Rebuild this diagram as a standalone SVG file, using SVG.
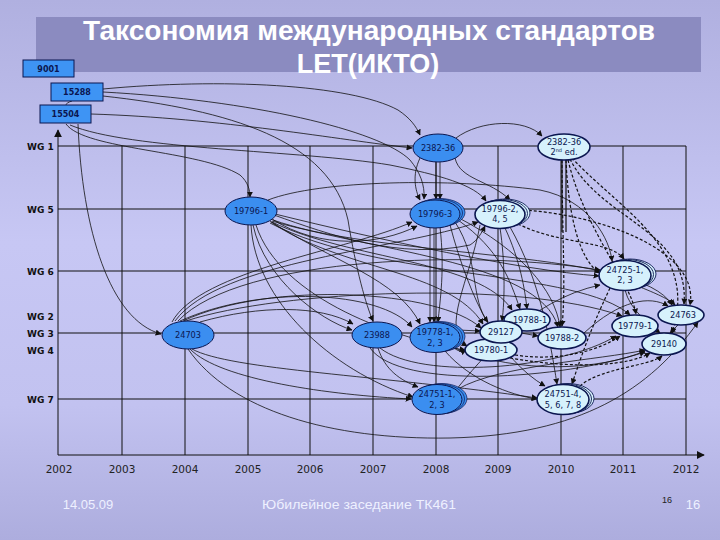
<svg xmlns="http://www.w3.org/2000/svg" width="720" height="540" viewBox="0 0 720 540">
<defs>
<linearGradient id="bg" x1="0" y1="0" x2="0" y2="1">
<stop offset="0" stop-color="#b0b0e0"/>
<stop offset="0.45" stop-color="#c7c7f4"/>
<stop offset="0.75" stop-color="#c2c2f0"/>
<stop offset="1" stop-color="#adadde"/>
</linearGradient>
<marker id="ar" viewBox="0 0 10 10" refX="9" refY="5" markerWidth="6" markerHeight="6" markerUnits="userSpaceOnUse" orient="auto">
<path d="M0,0 L10,5 L0,10 z" fill="#111"/>
</marker>
<marker id="ax" viewBox="0 0 10 10" refX="9" refY="5" markerWidth="8" markerHeight="8" markerUnits="userSpaceOnUse" orient="auto">
<path d="M0,0 L10,5 L0,10 z" fill="#111"/>
</marker>
</defs>
<style>
.grid{stroke:#111;stroke-width:1;fill:none}
.wg{font-family:"DejaVu Sans",sans-serif;font-weight:bold;font-size:9px;fill:#111}
.yr{font-family:"DejaVu Sans",sans-serif;font-size:10.5px;fill:#222;text-anchor:middle}
.ft{font-family:"Liberation Sans",Arial,sans-serif;fill:#eef0ff}
.box{fill:#3e94f4;stroke:#0b1650;stroke-width:1}
.bt{font-family:"DejaVu Sans",sans-serif;font-weight:bold;font-size:8px;fill:#0b1650;text-anchor:middle}
.dk{fill:#3b8ef0;stroke:#0b1650;stroke-width:1}
.lt{fill:#d6f1fc;stroke:#0b1650;stroke-width:1.6}
.dkb{fill:#3b8ef0;stroke:#0b1650;stroke-width:0.7}
.ltb{fill:#d6f1fc;stroke:#0b1650;stroke-width:0.9}
.nt{font-family:"DejaVu Sans",sans-serif;font-size:8.2px;fill:#0b1650;text-anchor:middle}
.c{fill:none;stroke:#111;stroke-width:0.8;marker-end:url(#ar)}
.d{fill:none;stroke:#111;stroke-width:1.2;stroke-dasharray:3 2;marker-end:url(#ar)}
</style>
<rect x="0" y="0" width="720" height="540" fill="url(#bg)"/>
<rect x="36" y="17" width="665" height="55" fill="#8b8bc0"/>
<text x="369" y="40" font-family="'Liberation Sans',Arial,sans-serif" font-weight="bold" font-size="27" fill="#ffffff" text-anchor="middle" textLength="572" lengthAdjust="spacingAndGlyphs">Таксономия международных стандартов</text>
<text x="368" y="73" font-family="'Liberation Sans',Arial,sans-serif" font-weight="bold" font-size="27" fill="#ffffff" text-anchor="middle">LET(ИКТО)</text>

<g id="grid">
<path class="grid" d="M58,146 H686 M58,209 H686 M58,271 H686 M58,333 H686 M58,399 H686"/>
<path class="grid" d="M122,146 V455 M185,146 V455 M248,146 V455 M310,146 V455 M373,146 V455 M436,146 V455 M498,146 V455 M561,146 V455 M623,146 V455 M686,146 V455"/>
<line x1="58" y1="455" x2="58" y2="130" stroke="#111" stroke-width="1" marker-end="url(#ax)"/>
<line x1="58" y1="455" x2="704" y2="455" stroke="#111" stroke-width="1" marker-end="url(#ax)"/>
<text class="wg" x="27" y="149.5">WG 1</text>
<text class="wg" x="27" y="212.5">WG 5</text>
<text class="wg" x="27" y="274.5">WG 6</text>
<text class="wg" x="27" y="319.5">WG 2</text>
<text class="wg" x="27" y="336.5">WG 3</text>
<text class="wg" x="27" y="354">WG 4</text>
<text class="wg" x="27" y="402.5">WG 7</text>
<text class="yr" x="59" y="473">2002</text>
<text class="yr" x="122" y="473">2003</text>
<text class="yr" x="185" y="473">2004</text>
<text class="yr" x="248" y="473">2005</text>
<text class="yr" x="310" y="473">2006</text>
<text class="yr" x="373" y="473">2007</text>
<text class="yr" x="436" y="473">2008</text>
<text class="yr" x="498" y="473">2009</text>
<text class="yr" x="561" y="473">2010</text>
<text class="yr" x="623" y="473">2011</text>
<text class="yr" x="686" y="473">2012</text>
</g>

<g id="connectors">
<path class="c" d="M103,89 C220,78 350,84 398,110 C410,118 416,126 420,135"/>
<path class="c" d="M91,114 C220,118 340,140 412,148"/>
<path class="c" d="M66,124 C85,150 200,150 240,175 C248,182 250,190 250,197"/>
<path class="c" d="M78,124 C82,230 110,320 161,334"/>
<path class="c" d="M103,96 C230,110 330,140 348,220 C356,270 366,305 373,321"/>
<path class="c" d="M70,125 C130,150 300,150 390,165 C440,175 475,185 486,201"/>
<path class="c" d="M103,92 C250,100 380,130 410,160 C420,172 425,185 424,199"/>
<path d="M72,101 C68,102 66,104 65,106" fill="none" stroke="#111" stroke-width="0.8"/>
<path class="c" d="M456,138 C480,120 525,118 542,136"/>
<path class="c" d="M436,162 L436,199"/>
<path class="c" d="M440,162 L440,199"/>
<path class="c" d="M420,158 C412,175 415,190 420,200"/>
<path class="c" d="M455,158 C460,180 490,180 510,200"/>
<path d="M562,160 V232 M566,160 V232" fill="none" stroke="#111" stroke-width="1.2"/>
<path class="d" d="M566,160 C568,210 578,260 600,273"/>
<path class="d" d="M562,160 C562,230 566,290 562,326"/>
<path class="d" d="M570,159 C600,220 690,230 684,304"/>
<path class="d" d="M568,160 C585,230 630,280 636,314"/>
<path class="d" d="M572,158 C620,210 700,250 672,333"/>
<path class="d" d="M518,224 C560,245 610,240 624,259"/>
<path class="d" d="M524,210 C600,215 700,250 690,305"/>
<path class="c" d="M272,219 C320,250 380,245 417,226"/>
<path class="c" d="M274,215 C330,235 400,260 470,245 C478,240 482,232 485,226"/>
<path class="c" d="M268,200 C320,180 450,178 540,190 C590,200 610,240 612,261"/>
<path class="c" d="M270,221 C330,260 400,280 420,324"/>
<path class="c" d="M271,222 C340,270 450,270 483,324"/>
<path class="c" d="M272,222 C350,260 480,260 512,310"/>
<path class="c" d="M273,220 C360,250 540,260 558,327"/>
<path class="c" d="M275,214 C380,240 520,270 599,276"/>
<path class="c" d="M270,223 C380,280 580,270 630,315"/>
<path class="c" d="M272,221 C400,260 640,250 672,305"/>
<path class="c" d="M253,225 C265,280 320,320 352,330"/>
<path class="c" d="M251,225 C255,300 330,370 413,397"/>
<path class="c" d="M256,225 C280,300 400,340 465,350"/>
<path class="c" d="M200,322 C260,305 320,305 353,324"/>
<path class="c" d="M172,322 C200,270 350,250 412,222"/>
<path class="c" d="M175,321 C220,260 400,250 478,222"/>
<path class="c" d="M178,321 C240,255 480,250 600,270"/>
<path class="c" d="M180,321 C260,285 380,290 412,327"/>
<path class="c" d="M183,321 C270,280 440,290 481,328"/>
<path class="c" d="M186,321 C280,290 520,280 622,316"/>
<path class="c" d="M190,349 C220,380 330,395 411,399"/>
<path class="c" d="M192,349 C230,370 380,375 537,398"/>
<path class="c" d="M188,349 C230,410 330,440 450,438 C580,435 650,390 698,322"/>
<path class="c" d="M378,348 C385,370 400,380 418,387"/>
<path class="c" d="M380,348 C420,380 560,370 616,336"/>
<path class="c" d="M370,348 C400,390 560,380 645,352"/>
<path class="c" d="M458,330 L480,331"/>
<path class="c" d="M452,346 C458,352 462,352 466,350"/>
<path class="c" d="M445,351 C470,380 510,395 537,399"/>
<path class="c" d="M455,348 C520,375 600,370 645,351"/>
<path class="c" d="M430,227 L430,322"/>
<path class="c" d="M434,228 L434,322"/>
<path class="c" d="M440,227 C445,270 440,300 438,322"/>
<path class="c" d="M455,222 C480,260 470,300 488,322"/>
<path class="c" d="M458,220 C500,250 510,280 520,309"/>
<path class="c" d="M459,218 C520,250 555,290 560,327"/>
<path class="c" d="M450,225 C470,300 500,360 545,386"/>
<path class="c" d="M500,228 C505,260 505,300 502,321"/>
<path class="c" d="M505,228 C520,260 525,290 527,309"/>
<path class="c" d="M480,225 C470,280 440,330 467,346"/>
<path class="c" d="M510,227 C540,280 550,340 557,384"/>
<path class="c" d="M521,333 L538,336"/>
<path class="d" d="M515,355 C560,362 600,350 620,336"/>
<path class="d" d="M510,358 C580,370 630,365 650,353"/>
<path class="c" d="M458,389 C500,365 600,360 645,350"/>
<path class="d" d="M580,386 C600,368 650,366 662,356"/>
<path class="c" d="M640,287 C660,295 670,300 675,305"/>
<path class="c" d="M625,290 C630,310 650,325 660,333"/>
<path class="d" d="M610,288 C590,330 580,360 572,384"/>
<path class="c" d="M584,333 C620,300 650,295 668,306"/>
<path class="c" d="M678,325 L670,333"/>
<path class="c" d="M456,390 C480,360 530,300 600,285"/>
</g>

<g id="n9001"><rect class="box" x="23" y="60" width="51" height="17"/><text class="bt" x="48.5" y="71.5">9001</text></g>
<g id="n15288"><rect class="box" x="51" y="83" width="52" height="18"/><text class="bt" x="77" y="95">15288</text></g>
<g id="n15504"><rect class="box" x="40" y="105" width="51" height="18"/><text class="bt" x="65.5" y="117">15504</text></g>

<g id="n2382-36"><ellipse class="dk" cx="438" cy="148" rx="25" ry="14"/><text class="nt" x="438" y="151">2382-36</text></g>
<g id="n2382-36-2"><ellipse class="lt" cx="564" cy="147" rx="26" ry="13"/><text class="nt" x="564" y="145">2382-36</text><text class="nt" x="564" y="155">2<tspan font-size="5" dy="-3">nd</tspan><tspan dy="3"> ed.</tspan></text></g>
<g id="n19796-1"><ellipse class="dk" cx="251" cy="211" rx="26" ry="14"/><text class="nt" x="251" y="214">19796-1</text></g>
<g id="n19796-3"><ellipse class="dkb" cx="440" cy="212.5" rx="25" ry="14"/><ellipse class="dkb" cx="437.5" cy="213" rx="25" ry="14"/><ellipse class="dk" cx="435" cy="214" rx="25" ry="14"/><text class="nt" x="435" y="217">19796-3</text></g>
<g id="n19796-2"><ellipse class="ltb" cx="505" cy="213" rx="25" ry="14"/><ellipse class="ltb" cx="502.5" cy="213.5" rx="25" ry="14"/><ellipse class="lt" cx="500" cy="214.5" rx="25" ry="14"/><text class="nt" x="500" y="212">19796-2,</text><text class="nt" x="500" y="222">4, 5</text></g>
<g id="n24725"><ellipse class="ltb" cx="630" cy="274" rx="26" ry="15"/><ellipse class="ltb" cx="627.5" cy="274.5" rx="26" ry="15"/><ellipse class="lt" cx="625" cy="275.5" rx="26" ry="15"/><text class="nt" x="625" y="273">24725-1,</text><text class="nt" x="625" y="283">2, 3</text></g>
<g id="n24703"><ellipse class="dk" cx="188" cy="335" rx="26" ry="14"/><text class="nt" x="188" y="338">24703</text></g>
<g id="n23988"><ellipse class="dk" cx="377" cy="335" rx="25" ry="13"/><text class="nt" x="377" y="338">23988</text></g>
<g id="n19778"><ellipse class="dkb" cx="440" cy="336.5" rx="25" ry="15"/><ellipse class="dkb" cx="437.5" cy="337" rx="25" ry="15"/><ellipse class="dk" cx="435" cy="337.5" rx="25" ry="15"/><text class="nt" x="435" y="335">19778-1,</text><text class="nt" x="435" y="346">2, 3</text></g>
<g id="n19780-1"><ellipse class="lt" cx="491" cy="350" rx="26" ry="11"/><text class="nt" x="491" y="353">19780-1</text></g>
<g id="n19788-1"><ellipse class="lt" cx="527" cy="320" rx="23" ry="11"/><text class="nt" x="530" y="323">19788-1</text></g>
<g id="n29127"><ellipse class="lt" cx="501" cy="332" rx="21" ry="11"/><text class="nt" x="501" y="335">29127</text></g>
<g id="n19788-2"><ellipse class="lt" cx="562" cy="338" rx="24" ry="11"/><text class="nt" x="562" y="341">19788-2</text></g>
<g id="n19779-1"><ellipse class="lt" cx="635" cy="326" rx="23" ry="11"/><text class="nt" x="635" y="329">19779-1</text></g>
<g id="n24763"><ellipse class="lt" cx="681" cy="315" rx="23" ry="10"/><text class="nt" x="683" y="318">24763</text></g>
<g id="n29140"><ellipse class="lt" cx="664" cy="344" rx="22" ry="11"/><text class="nt" x="664" y="347">29140</text></g>
<g id="n24751-1"><ellipse class="dkb" cx="442" cy="398.5" rx="25" ry="15"/><ellipse class="dkb" cx="439.5" cy="399" rx="25" ry="15"/><ellipse class="dk" cx="437" cy="399.5" rx="25" ry="15"/><text class="nt" x="437" y="397">24751-1,</text><text class="nt" x="437" y="408">2, 3</text></g>
<g id="n24751-4"><ellipse class="ltb" cx="568" cy="398.5" rx="26" ry="15"/><ellipse class="ltb" cx="565.5" cy="399" rx="26" ry="15"/><ellipse class="lt" cx="563" cy="399.5" rx="26" ry="15"/><text class="nt" x="563" y="397">24751-4,</text><text class="nt" x="563" y="408">5, 6, 7, 8</text></g>

<g id="footer">
<text class="ft" x="88" y="509" font-size="13" text-anchor="middle">14.05.09</text>
<text class="ft" x="359" y="509" font-size="13.5" text-anchor="middle" textLength="194" lengthAdjust="spacingAndGlyphs">Юбилейное заседание ТК461</text>
<text x="667" y="503" font-family="'Liberation Sans',Arial,sans-serif" font-size="9" fill="#222" text-anchor="middle">16</text>
<text class="ft" x="693" y="509" font-size="13" text-anchor="middle">16</text>
</g>
</svg>
